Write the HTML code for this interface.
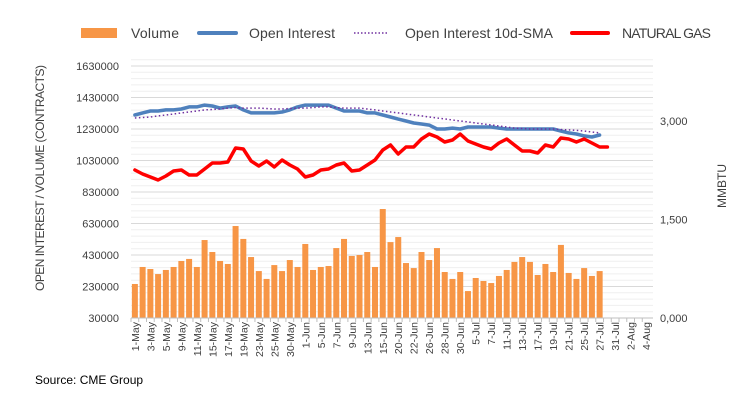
<!DOCTYPE html>
<html><head><meta charset="utf-8"><style>
body{margin:0;background:#fff;font-family:"Liberation Sans",sans-serif;}
svg text{font-family:"Liberation Sans",sans-serif;fill:#404040;}
</style></head><body>
<svg id="chart" width="754" height="402" xmlns="http://www.w3.org/2000/svg">
<g>
 <g><rect x="81" y="28" width="36" height="10" fill="#F79646"/><text x="131" y="38" font-size="14" textLength="48">Volume</text></g>
 <g><line x1="199" y1="33" x2="236" y2="33" stroke="#4F81BD" stroke-width="4" stroke-linecap="round"/><text x="249" y="38" font-size="14" textLength="86">Open Interest</text></g>
 <g><line x1="354" y1="33" x2="389" y2="33" stroke="#7030A0" stroke-width="1.5" stroke-dasharray="1.5 2"/><text x="405" y="38" font-size="14" textLength="148">Open Interest 10d-SMA</text></g>
 <g><line x1="572" y1="33" x2="608" y2="33" stroke="#FF0000" stroke-width="4" stroke-linecap="round"/><text x="622" y="38" font-size="14" textLength="89">NATURAL GAS</text></g>
</g>
<g id="grid"></g>
<g id="bars"></g>
<g id="lines"></g>
<g id="axes"></g>
<text transform="translate(44,178) rotate(-90)" text-anchor="middle" font-size="12" textLength="226">OPEN INTEREST / VOLUME (CONTRACTS)</text>
<text transform="translate(726,186) rotate(-90)" text-anchor="middle" font-size="12">MMBTU</text>
<text x="35" y="384" font-size="12" style="fill:#000">Source: CME Group</text>
</svg>
<script>
const categories=["1-May","2-May","3-May","4-May","5-May","8-May","9-May","10-May","11-May","12-May","15-May","16-May","17-May","18-May","19-May","22-May","23-May","24-May","25-May","26-May","30-May","31-May","1-Jun","2-Jun","5-Jun","6-Jun","7-Jun","8-Jun","9-Jun","12-Jun","13-Jun","14-Jun","15-Jun","16-Jun","20-Jun","21-Jun","22-Jun","23-Jun","26-Jun","27-Jun","28-Jun","29-Jun","30-Jun","3-Jul","5-Jul","6-Jul","7-Jul","10-Jul","11-Jul","12-Jul","13-Jul","14-Jul","17-Jul","18-Jul","19-Jul","20-Jul","21-Jul","24-Jul","25-Jul","26-Jul","27-Jul","28-Jul","31-Jul","1-Aug","2-Aug","3-Aug","4-Aug"];
const volume=[246,354,341,309,335,354,392,405,354,525,449,392,373,614,532,417,328,278,366,328,398,354,500,335,354,360,474,532,424,430,449,354,722,512,544,379,347,449,398,474,322,278,322,201,284,265,252,297,335,386,417,386,303,373,322,494,316,278,347,297,328].map(v=>v*1000);
const openInterest=[1319,1332,1344,1344,1351,1351,1357,1370,1370,1382,1376,1363,1370,1376,1351,1332,1332,1332,1332,1338,1351,1370,1382,1382,1382,1382,1363,1344,1344,1344,1332,1332,1319,1306,1293,1281,1268,1262,1255,1230,1230,1236,1230,1243,1243,1243,1243,1236,1230,1230,1230,1230,1230,1230,1230,1217,1205,1198,1186,1179,1192].map(v=>v*1000);
const sma=[1300,1303,1306,1313,1319,1325,1332,1338,1344,1351,1354,1357,1363,1366,1363,1363,1363,1360,1357,1357,1360,1363,1363,1366,1370,1370,1366,1363,1363,1363,1357,1351,1344,1338,1332,1325,1319,1313,1306,1300,1294,1287,1281,1275,1268,1262,1256,1249,1243,1236,1233,1230,1230,1230,1230,1227,1224,1221,1217,1211,1205].map(v=>v*1000);
const gas=[2.254,2.193,2.147,2.101,2.162,2.239,2.254,2.178,2.178,2.269,2.360,2.360,2.376,2.589,2.574,2.391,2.315,2.391,2.299,2.406,2.330,2.269,2.147,2.178,2.254,2.269,2.330,2.360,2.239,2.254,2.330,2.406,2.558,2.634,2.497,2.604,2.604,2.726,2.802,2.756,2.680,2.711,2.802,2.695,2.650,2.604,2.574,2.665,2.726,2.634,2.543,2.543,2.513,2.634,2.604,2.741,2.726,2.680,2.726,2.665,2.604,2.604];
const leftTicks=[30000,230000,430000,630000,830000,1030000,1230000,1430000,1630000];
const rightTicks=[0,1.5,3];
const rightTickLabels=["0,000","1,500","3,000"];

const NS="http://www.w3.org/2000/svg";
const L=131,R=650,T=66,B=318;
const band=(R-L)/categories.length;
const xC=i=>L+band*(i+0.5);
const yL=v=>B-(v-30000)/1600000*(B-T);
const yR=v=>B-v/3*(B-121);
function mk(tag,attrs,parent){const e=document.createElementNS(NS,tag);for(const k in attrs)e.setAttribute(k,attrs[k]);parent.appendChild(e);return e;}
const grid=document.getElementById('grid'),bars=document.getElementById('bars'),lines=document.getElementById('lines'),axes=document.getElementById('axes');
for(let k=0;k<=41;k++){const v=30000+k*40000;const y=yL(v);
 const g=mk('line',{x1:L,x2:653,y1:y,y2:y,stroke:k%5==0?'#d9d9d9':'#efefef','stroke-width':1},grid);
 
 }
leftTicks.forEach(v=>{const t=mk('text',{x:119,y:yL(v)+4,'text-anchor':'end','font-size':11},axes);t.textContent=v;
 
 });
rightTicks.forEach((v,i)=>{const t=mk('text',{x:660,y:yR(v)+4,'font-size':11},axes);t.textContent=rightTickLabels[i];
 
 });
const ax=mk('line',{x1:L,x2:653,y1:B,y2:B,stroke:'#bfbfbf'},axes);


categories.forEach((c,i)=>{
 const tk=mk('line',{x1:L+band*i,x2:L+band*i,y1:B,y2:B+4,stroke:'#bfbfbf'},axes);
 
 
 if(i%2==0){const t=mk('text',{transform:`translate(${xC(i)+4},${B+4}) rotate(-90)`,'text-anchor':'end','font-size':10.5},axes);t.textContent=c;
 
 }
});
volume.forEach((v,i)=>{const y=yL(v);const r=mk('rect',{x:xC(i)-3,y:y,width:6,height:B-y,fill:'#F79646'},bars);
 
 });
function path(arr,f,attrs,name){const d=arr.map((v,i)=>(i?'L':'M')+xC(i).toFixed(1)+','+f(v).toFixed(1)).join('');
 const p=mk('path',Object.assign({d:d,fill:'none','stroke-linejoin':'round','stroke-linecap':'round'},attrs),lines);
 
 }
path(openInterest,yL,{stroke:'#4F81BD','stroke-width':3.5},'open-interest-line');
path(sma,yL,{stroke:'#7030A0','stroke-width':1.5,'stroke-dasharray':'1.5 2.5','stroke-linecap':'butt'},'open-interest-sma-line');
path(gas,yR,{stroke:'#FF0000','stroke-width':3.5},'natural-gas-line');
</script>
</body></html>
